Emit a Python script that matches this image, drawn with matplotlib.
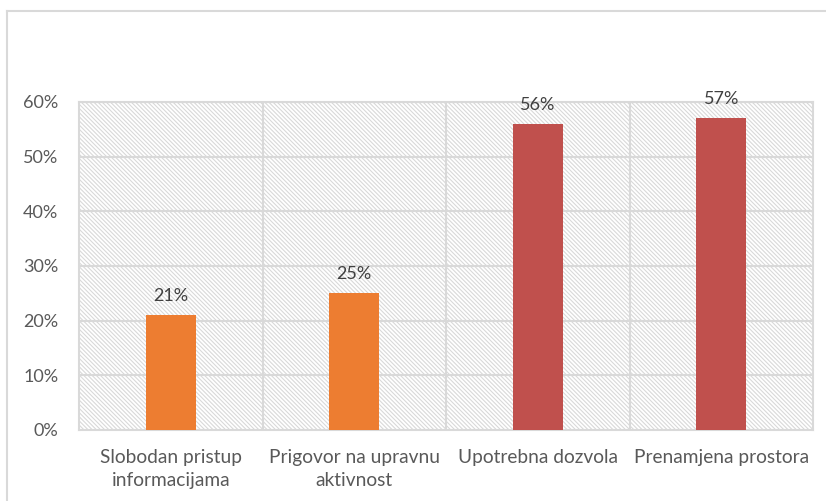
import matplotlib
matplotlib.use("Agg")
import matplotlib.pyplot as plt
from matplotlib.patches import Rectangle
from matplotlib.lines import Line2D
from matplotlib.ticker import FuncFormatter

categories = ["Slobodan pristup\ninformacijama", "Prigovor na upravnu\naktivnost",
              "Upotrebna dozvola", "Prenamjena prostora"]
values = [21, 25, 56, 57]
colors = ["#ED7D31", "#ED7D31", "#C0504D", "#C0504D"]
yticks = [0, 10, 20, 30, 40, 50, 60]

plt.rcParams['font.family'] = ['Lato', 'DejaVu Sans']
plt.rcParams['hatch.linewidth'] = 0.8
plt.rcParams['hatch.color'] = '#d9d9d9'

W, H = 826, 501
fig = plt.figure(figsize=(W/100, H/100), dpi=100)
ax = fig.add_axes([79/W, 1-430/H, (813-79)/W, (430-102)/H])

# hatched background
bg = Rectangle((0, 0), 1, 1, transform=ax.transAxes, facecolor='white',
               edgecolor='#d9d9d9', hatch='\\'*8, linewidth=0, zorder=0)
ax.add_patch(bg)
ax.set_facecolor('white')

x = list(range(len(categories)))
ax.bar(x, values, width=0.27, color=colors, zorder=3)
for xi, v in zip(x, values):
    ax.annotate(f"{v}%", (xi, v), xytext=(0, 8), textcoords='offset points',
                ha='center', va='bottom', fontsize=13, color='#404040', zorder=4)

ax.set_xlim(-0.5, len(categories) - 0.5)
ax.set_ylim(0, 60)
ax.set_yticks(yticks)
ax.yaxis.set_major_formatter(FuncFormatter(lambda v, p: f"{int(v)}%"))
ax.set_xticks(x)
ax.set_xticklabels(categories, fontsize=13.8, color='#595959', linespacing=1.4)
ax.tick_params(axis='y', labelsize=13, labelcolor='#595959', length=0, pad=15)
ax.tick_params(axis='x', length=0, pad=14)

for y in yticks[1:]:
    ax.axhline(y, color='#d9d9d9', linewidth=1.5, zorder=1)
for xb in [0.5, 1.5, 2.5]:
    ax.axvline(xb, color='#d9d9d9', linewidth=1.5, zorder=1)
for s in ax.spines.values():
    s.set_color('#d9d9d9')
    s.set_linewidth(1.5)
    s.set_zorder(2)

# outer chart border (left and top, cropped)
fig.add_artist(Line2D([7.5/W, 7.5/W], [0, 1-10.5/H], transform=fig.transFigure,
                      color='#d9d9d9', linewidth=1.5))
fig.add_artist(Line2D([7.5/W, 1], [1-10.5/H, 1-10.5/H], transform=fig.transFigure,
                      color='#d9d9d9', linewidth=1.5))

fig.savefig("out.png", dpi=100)
